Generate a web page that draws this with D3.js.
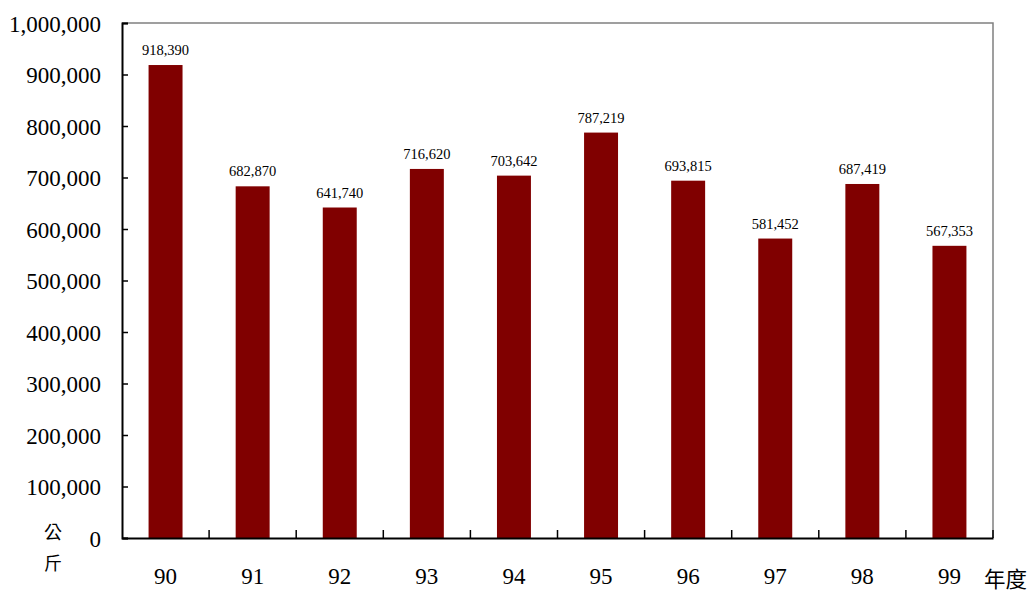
<!DOCTYPE html>
<html>
<head>
<meta charset="utf-8">
<script src="https://cdn.jsdelivr.net/npm/d3@7"></script>
<style>
  body { margin: 0; background: #fff; }
  text { font-family: "Liberation Serif", "Times New Roman", serif; fill: #000; }
  .cjk { font-family: "Noto Sans CJK TC", sans-serif; }
</style>
</head>
<body>
<div class="main"></div>
<script>
const years = ["90", "91", "92", "93", "94", "95", "96", "97", "98", "99"];
const weights = [918390, 682870, 641740, 716620, 703642, 787219, 693815, 581452, 687419, 567353];
const yTicks = [0, 100000, 200000, 300000, 400000, 500000, 600000, 700000, 800000, 900000, 1000000];

const w = 1031;
const h = 592;
const plotL = 122, plotR = 993, plotT = 23, plotB = 538;

const svg = d3.select(".main").append("svg").attr("width", w).attr("height", h);

const xScale = d3.scaleBand().domain(years).range([plotL, plotR]).paddingInner(0.61).paddingOuter(0.305);
const xBand = d3.scaleBand().domain(years).range([plotL, plotR]);
const yScale = d3.scaleLinear().domain([0, 1000000]).range([plotB, plotT]);

const fmt = d3.format(",");

// frame (top/right in grey)
svg.append("path")
    .attr("d", `M${plotL},${plotT}H${plotR}V${plotB}`)
    .attr("fill", "none")
    .attr("stroke", "#808080")
    .attr("stroke-width", 1.5);

// bars
svg.selectAll("rect.bar")
    .data(weights)
    .enter()
    .append("rect")
    .attr("class", "bar")
    .attr("x", (d, i) => xScale(years[i]))
    .attr("width", xScale.bandwidth())
    .attr("y", (d) => yScale(d))
    .attr("height", (d) => plotB - yScale(d))
    .attr("fill", "#800000");

// value labels
svg.selectAll("text.val")
    .data(weights)
    .enter()
    .append("text")
    .attr("class", "val")
    .attr("x", (d, i) => xScale(years[i]) + xScale.bandwidth() / 2)
    .attr("y", (d) => yScale(d) - 10)
    .attr("text-anchor", "middle")
    .attr("font-size", 14.5)
    .text((d) => fmt(d));

// y axis
const yAxis = d3.axisLeft(yScale).tickValues(yTicks).tickFormat(fmt).tickSize(-6).tickPadding(20);
const gy = svg.append("g").attr("transform", `translate(${plotL},0)`).call(yAxis);
gy.select(".domain").attr("stroke", "#000").attr("stroke-width", 2);
gy.selectAll(".tick line").attr("stroke", "#000").attr("stroke-width", 1.5);
gy.selectAll(".tick text")
    .attr("font-family", "Liberation Serif, serif")
    .attr("font-size", 23)
    .attr("x", -21)
    .attr("dy", "0.35em");

// x axis
const xAxis = d3.axisBottom(xBand).tickSize(0).tickPadding(30);
const gx = svg.append("g").attr("transform", `translate(0,${plotB})`).call(xAxis);
gx.select(".domain").attr("stroke", "#000").attr("stroke-width", 2);
gx.selectAll(".tick text")
    .attr("font-family", "Liberation Serif, serif")
    .attr("font-size", 23);

// category boundary ticks pointing up
svg.selectAll("line.sep")
    .data(years.slice(1).concat(["end"]))
    .enter()
    .append("line")
    .attr("class", "sep")
    .attr("x1", (d) => d === "end" ? plotR : xBand(d))
    .attr("x2", (d) => d === "end" ? plotR : xBand(d))
    .attr("y1", plotB)
    .attr("y2", plotB - 8)
    .attr("stroke", "#000")
    .attr("stroke-width", 1.5);

// axis titles
svg.append("text").attr("class", "cjk").attr("x", 53).attr("y", 539)
    .attr("text-anchor", "middle").attr("font-size", 18).text("公");
svg.append("text").attr("class", "cjk").attr("x", 53).attr("y", 570)
    .attr("text-anchor", "middle").attr("font-size", 18).text("斤");
svg.append("text").attr("class", "cjk").attr("x", 984).attr("y", 587)
    .attr("font-size", 21.5).text("年度");
</script>
</body>
</html>
